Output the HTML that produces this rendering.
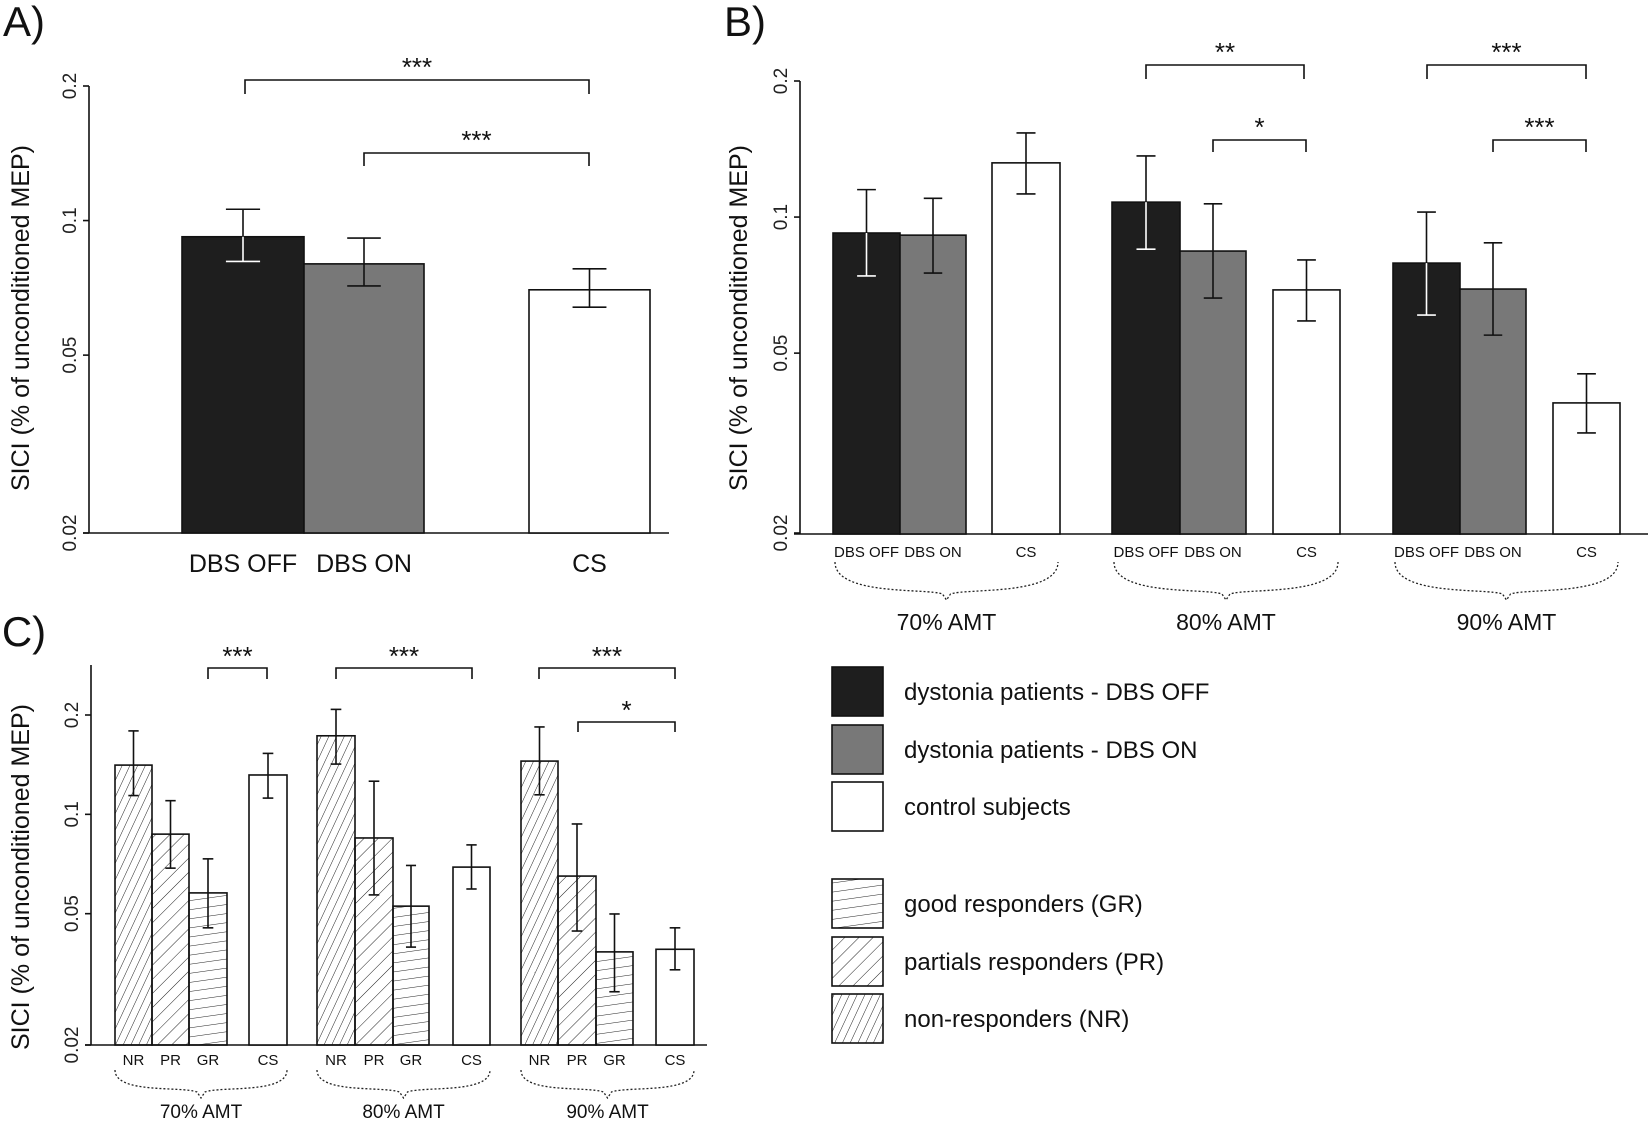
<!DOCTYPE html>
<html><head><meta charset="utf-8">
<style>
html,body{margin:0;padding:0;background:#fff;}
svg{display:block;font-family:"Liberation Sans",sans-serif;}
.nar{font-family:"Liberation Sans Narrow","Liberation Sans",sans-serif;}
</style></head>
<body>
<svg id="fig" width="1650" height="1123" viewBox="0 0 1650 1123" xmlns="http://www.w3.org/2000/svg">
<defs>
<pattern id="hNR" width="7" height="7" patternUnits="userSpaceOnUse" patternTransform="rotate(25)"><line x1="0" y1="0" x2="0" y2="7" stroke="#222" stroke-width="1"/></pattern>
<pattern id="hPR" width="10" height="10" patternUnits="userSpaceOnUse" patternTransform="rotate(45)"><line x1="0" y1="0" x2="0" y2="10" stroke="#222" stroke-width="1"/></pattern>
<pattern id="hGR" width="10" height="9" patternUnits="userSpaceOnUse" patternTransform="rotate(-8)"><line x1="0" y1="0" x2="10" y2="0" stroke="#222" stroke-width="1"/></pattern>
</defs>
<g id="root"></g>
</svg>
<script>
// Panel A data
const aCats = ["DBS OFF","DBS ON","CS"];
const aVals = [0.092,0.080,0.070];
const aHi = [0.106,0.0914,0.078];
const aLo = [0.081,0.0714,0.064];
// Panel B data
const bGroups = ["70% AMT","80% AMT","90% AMT"];
const bCats = ["DBS OFF","DBS ON","CS"];
const bVals = [[0.0922,0.0912,0.1318],[0.1079,0.0841,0.069],[0.0791,0.0693,0.0388]];
const bHi = [[0.115,0.110,0.1535],[0.1365,0.107,0.0804],[0.1026,0.0877,0.045]];
const bLo = [[0.0741,0.0752,0.1125],[0.0849,0.0662,0.0589],[0.0607,0.0548,0.0333]];
// Panel C data
const cGroups = ["70% AMT","80% AMT","90% AMT"];
const cCats = ["NR","PR","GR","CS"];
const cVals = [[0.141,0.0871,0.0578,0.1316],[0.173,0.0848,0.0527,0.0692],[0.145,0.065,0.0383,0.039]];
const cHi = [[0.179,0.110,0.0733,0.153],[0.208,0.126,0.070,0.0808],[0.184,0.0935,0.0499,0.0453]];
const cLo = [[0.114,0.0687,0.0453,0.112],[0.142,0.057,0.0396,0.0594],[0.1146,0.0443,0.029,0.0338]];
const yTicks = [0.2,0.1,0.05,0.02];
const yTickLabels = ["0.2","0.1","0.05","0.02"];

const NS="http://www.w3.org/2000/svg";
const root=document.getElementById('root');
function mk(tag,attrs,parent,text){const e=document.createElementNS(NS,tag);for(const k in attrs)e.setAttribute(k,attrs[k]);if(text!==undefined)e.textContent=text;(parent||root).appendChild(e);return e;}
function logScale(y02,perDec){return v=>y02+Math.log10(0.2/v)*perDec;}
function ln(x1,y1,x2,y2,p,col,w){return mk('line',{x1,y1,x2,y2,stroke:col||'#111','stroke-width':w||1.6},p);}

function axis(g,x,yTop,yBot,xEnd,y,tickFs,titleX,titleY,titleFs,tickLx){
  const a=ln(x,yTop,x,yBot,g);
  const b=ln(x-6,yBot,xEnd,yBot,g);
  yTicks.forEach((t,i)=>{const yy=y(t);ln(x-6,yy,x,yy,g);
    const tx=mk('text',{x:tickLx,y:yy,transform:`rotate(-90 ${tickLx} ${yy})`,'text-anchor':'middle','font-size':tickFs,fill:'#222'},g,yTickLabels[i]);
    });
  const tt=mk('text',{x:titleX,y:titleY,transform:`rotate(-90 ${titleX} ${titleY})`,'text-anchor':'middle','font-size':titleFs,fill:'#111'},g,'SICI (% of unconditioned MEP)');
  
}
function bar(g,x0,x1,base,v,hi,lo,fill,y,inv,name){
  const top=y(v);
  const r=mk('rect',{x:x0,y:top,width:x1-x0,height:base-top,fill:fill,stroke:'#111','stroke-width':1.6},g);
  
  const cx=(x0+x1)/2,yh=y(hi),yl=y(lo),cw=(x1-x0)*0.14;
  ln(cx,yh,cx,top,g);ln(cx-cw,yh,cx+cw,yh,g);
  const c=inv?'#fff':'#111';ln(cx,top,cx,yl,g,c);ln(cx-cw,yl,cx+cw,yl,g,c);
}
function bracket(g,x1,x2,y0,drop,stars,sy,fs){
  const p=mk('path',{d:`M${x1},${y0+drop}V${y0}H${x2}V${y0+drop}`,fill:'none',stroke:'#111','stroke-width':1.6},g);
  
  const t=mk('text',{x:(x1+x2)/2,y:sy,'text-anchor':'middle','font-size':fs,fill:'#111'},g,stars);
  
}
function brace(g,x1,x2,y1,y2){
  const cx=(x1+x2)/2;
  const p=mk('path',{d:`M${x1},${y1} C${x1},${y2-4} ${cx-20},${y2-12} ${cx-4},${y2-6} L${cx},${y2} L${cx+4},${y2-6} C${cx+20},${y2-12} ${x2},${y2-4} ${x2},${y1}`,fill:'none',stroke:'#222','stroke-width':1.3,'stroke-dasharray':'2 2'},g);
  
}
function label(g,x,y,txt,fs,cls,name){const t=mk('text',{x,y,'text-anchor':'middle','font-size':fs,fill:'#111',class:cls||''},g,txt);return t;}
const fills={"DBS OFF":"#1e1e1e","DBS ON":"#787878","CS":"#fff","NR":"url(#hNR)","PR":"url(#hPR)","GR":"url(#hGR)"};

// ---- Panel A
const gA=mk('g',{});
label(gA,24,36,'A)',42,'','panel-a-label');
const yA=logScale(86,447);
axis(gA,89,86,533,669,yA,19,29,318,25,76);
const aX=[[182,304],[304,424],[529,650]];
aCats.forEach((c,i)=>{bar(gA,aX[i][0],aX[i][1],533,aVals[i],aHi[i],aLo[i],fills[c],yA,c==="DBS OFF",'bar-'+c.toLowerCase().replace(' ','-'));
  label(gA,(aX[i][0]+aX[i][1])/2,572,c,25,'nar','x-label');});
bracket(gA,245,589,80,14,'***',76,26);
bracket(gA,364,589,153,13,'***',149,26);

// ---- Panel B
const gB=mk('g',{});
label(gB,745,36,'B)',42,'','panel-b-label');
const yB=logScale(81,452);
axis(gB,800,81,534,1648,yB,19,747,318,25,787);
const bX=[[[833,900],[900,966],[992,1060]],[[1112,1180],[1180,1246],[1273,1340]],[[1393,1460],[1460,1526],[1553,1620]]];
bGroups.forEach((gname,gi)=>{
  bCats.forEach((c,i)=>{const xs=bX[gi][i];bar(gB,xs[0],xs[1],534,bVals[gi][i],bHi[gi][i],bLo[gi][i],fills[c],yB,c==="DBS OFF",'bar-'+gname.slice(0,2)+'-'+c.toLowerCase().replace(' ','-'));
    label(gB,(xs[0]+xs[1])/2,557,c,15,'nar','x-label');});
  const x1=bX[gi][0][0]+2,x2=bX[gi][2][1]-2;brace(gB,x1,x2,562,600);
  label(gB,(x1+x2)/2,630,gname,23,'','group-label');
});
bracket(gB,1146,1304,65,14,'**',61,26);
bracket(gB,1213,1306,140,12,'*',136,26);
bracket(gB,1427,1586,65,14,'***',61,26);
bracket(gB,1493,1586,140,12,'***',136,26);

// ---- Panel C
const gC=mk('g',{});
label(gC,24,646,'C)',42,'','panel-c-label');
const yC=logScale(715,330);
axis(gC,91,665,1045,707,yC,19,29,877,25,78);
const cX=[[[115,152],[152,189],[189,227],[249,287]],[[317,355],[355,393],[393,429],[453,490]],[[521,558],[558,596],[596,633],[656,694]]];
cGroups.forEach((gname,gi)=>{
  cCats.forEach((c,i)=>{const xs=cX[gi][i];bar(gC,xs[0],xs[1],1045,cVals[gi][i],cHi[gi][i],cLo[gi][i],fills[c],yC,false,'bar-'+gname.slice(0,2)+'-'+c.toLowerCase());
    label(gC,(xs[0]+xs[1])/2,1065,c,15,'nar','x-label');});
  const x1=cX[gi][0][0],x2=cX[gi][3][1];brace(gC,x1,x2,1070,1098);
  label(gC,(x1+x2)/2,1118,gname,19,'nar','group-label');
});
bracket(gC,208,267,668,11,'***',665,26);
bracket(gC,336,472,668,11,'***',665,26);
bracket(gC,539,675,668,11,'***',665,26);
bracket(gC,578,675,722,10,'*',719,26);

// ---- Legend
const gL=mk('g',{});
const legText=["dystonia patients - DBS OFF","dystonia patients - DBS ON","control subjects","good responders (GR)","partials responders (PR)","non-responders (NR)"];
const legKeys=["DBS OFF","DBS ON","CS","GR","PR","NR"];
const legY=[667,725,782,879,937,994];
legText.forEach((t,i)=>{
  const r=mk('rect',{x:832,y:legY[i],width:51,height:49,fill:fills[legKeys[i]],stroke:'#111','stroke-width':1.6},gL);
  
  const tx=mk('text',{x:904,y:legY[i]+33,'font-size':24,fill:'#111'},gL,t);
  
});
</script>
</body></html>
